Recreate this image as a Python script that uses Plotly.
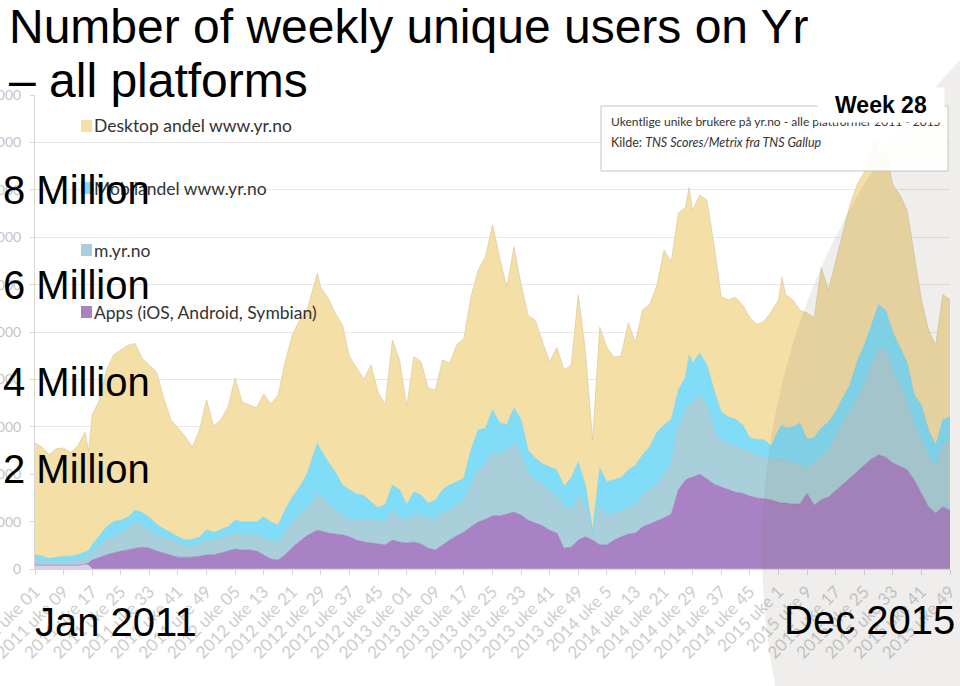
import plotly.graph_objects as go

# ---------------- data (millions of weekly unique users) ----------------
weeks = [0, 2, 4, 6, 8, 10, 12, 14, 15, 16, 18, 20, 22, 24, 26, 28, 30, 32, 34, 36,
         38, 40, 42, 44, 46, 48, 50, 52, 54, 56, 58, 60, 62, 64, 66, 68, 70, 72, 74, 76,
         78, 79, 80, 82, 84, 86, 88, 90, 92, 94, 96, 98, 100, 102, 104, 106, 108, 110, 112, 114,
         116, 118, 120, 122, 124, 126, 128, 130, 132, 134, 136, 138, 140, 142, 144, 146, 148, 150, 152, 154,
         156, 158, 160, 162, 164, 166, 168, 170, 172, 174, 176, 178, 180, 182, 183, 184, 186, 188, 190, 192,
         194, 196, 198, 200, 202, 204, 206, 208, 209, 210, 212, 214, 216, 218, 220, 222, 224, 226, 228, 230,
         232, 234, 235, 236, 238, 240, 242, 244, 246, 248, 250, 252, 254, 256]

desktop = [2.36, 2.30, 2.19, 2.30, 2.28, 2.19, 2.30, 2.53, 2.09, 2.74, 2.85, 3.31, 3.52, 3.59, 3.63, 3.52, 3.25, 3.21, 3.21, 2.76,
           2.38, 2.30, 2.19, 1.94, 2.26, 2.74, 2.24, 2.32, 2.53, 3.00, 2.53, 2.47, 2.41, 2.59, 2.49, 2.74, 3.12, 3.42, 3.52, 3.44,
           3.59, 3.59, 3.42, 3.46, 3.35, 3.38, 2.81, 2.66, 2.45, 2.89, 2.43, 2.11, 3.06, 2.74, 2.07, 2.85, 2.81, 2.43, 2.32, 2.74,
           2.57, 2.89, 2.95, 3.23, 3.38, 3.61, 3.90, 3.48, 2.91, 3.40, 2.85, 2.85, 2.91, 2.57, 2.22, 2.59, 2.45, 2.38, 3.52, 2.81,
           1.90, 2.97, 2.83, 2.59, 2.57, 3.10, 2.59, 3.06, 3.00, 3.10, 3.69, 3.33, 3.73, 3.59, 3.54, 3.23, 3.33, 3.48, 3.06, 2.43,
           2.47, 2.57, 2.53, 2.53, 2.43, 2.49, 2.83, 2.74, 3.12, 2.81, 2.68, 2.38, 2.66, 2.53, 3.38, 2.78, 3.16, 3.50, 3.80, 3.73,
           3.65, 3.65, 3.69, 3.16, 3.38, 3.10, 3.21, 3.21, 2.95, 2.22, 2.11, 2.11, 2.64, 2.47]

mobil = [0.11, 0.11, 0.06, 0.08, 0.11, 0.11, 0.11, 0.13, 0.13, 0.15, 0.21, 0.27, 0.32, 0.27, 0.23, 0.25, 0.27, 0.27, 0.23, 0.19,
         0.15, 0.13, 0.13, 0.15, 0.13, 0.21, 0.15, 0.17, 0.19, 0.27, 0.27, 0.27, 0.27, 0.44, 0.38, 0.36, 0.46, 0.53, 0.59, 0.70,
         0.95, 1.03, 0.97, 0.89, 0.80, 0.63, 0.63, 0.55, 0.49, 0.38, 0.27, 0.36, 0.53, 0.59, 0.32, 0.49, 0.44, 0.32, 0.42, 0.46,
         0.53, 0.49, 0.46, 0.74, 0.84, 0.74, 0.89, 0.68, 0.53, 0.72, 0.74, 0.46, 0.46, 0.42, 0.49, 0.57, 0.40, 0.68, 0.70, 0.42,
         0.06, 0.78, 0.70, 0.70, 0.70, 0.80, 0.84, 0.84, 0.91, 1.08, 1.05, 0.89, 0.74, 0.68, 1.05, 0.84, 0.89, 0.84, 0.84, 0.59,
         0.57, 0.57, 0.49, 0.30, 0.32, 0.36, 0.30, 0.63, 0.74, 0.68, 0.74, 0.89, 0.61, 0.53, 0.61, 0.59, 0.51, 0.51, 0.57, 0.80,
         0.84, 0.84, 0.91, 0.95, 0.84, 0.80, 0.80, 0.84, 0.63, 0.74, 0.57, 0.46, 0.53, 0.49]

myr = [0.11, 0.08, 0.08, 0.08, 0.08, 0.08, 0.11, 0.13, 0.13, 0.17, 0.25, 0.32, 0.34, 0.38, 0.46, 0.55, 0.46, 0.38, 0.34, 0.32,
       0.32, 0.30, 0.23, 0.23, 0.27, 0.32, 0.32, 0.32, 0.32, 0.34, 0.32, 0.32, 0.34, 0.36, 0.40, 0.38, 0.49, 0.53, 0.55, 0.59,
       0.68, 0.80, 0.74, 0.61, 0.51, 0.42, 0.36, 0.42, 0.49, 0.49, 0.49, 0.49, 0.63, 0.51, 0.49, 0.57, 0.59, 0.63, 0.63, 0.70,
       0.63, 0.65, 0.68, 0.89, 1.10, 1.18, 1.35, 1.29, 1.35, 1.48, 1.27, 1.01, 0.91, 0.89, 0.84, 0.76, 0.91, 0.78, 0.95, 0.68,
       0.15, 0.84, 0.63, 0.57, 0.55, 0.55, 0.59, 0.68, 0.72, 0.80, 0.91, 1.10, 1.37, 1.48, 1.54, 1.56, 1.67, 1.56, 1.14, 0.99,
       0.97, 0.97, 0.95, 0.93, 0.91, 0.89, 0.84, 0.89, 0.91, 0.91, 0.89, 0.82, 0.53, 0.89, 0.91, 0.99, 1.16, 1.33, 1.39, 1.52,
       1.69, 1.98, 2.09, 2.22, 2.26, 1.96, 1.71, 1.43, 1.16, 1.12, 1.05, 0.97, 1.31, 1.48]

apps = [0.00, 0.00, 0.00, 0.00, 0.00, 0.00, 0.00, 0.00, 0.05, 0.19, 0.25, 0.30, 0.34, 0.38, 0.40, 0.44, 0.46, 0.44, 0.38, 0.34,
        0.30, 0.25, 0.25, 0.25, 0.27, 0.30, 0.30, 0.34, 0.38, 0.42, 0.40, 0.40, 0.38, 0.30, 0.21, 0.19, 0.30, 0.46, 0.59, 0.70,
        0.78, 0.82, 0.80, 0.76, 0.74, 0.72, 0.68, 0.61, 0.57, 0.55, 0.53, 0.51, 0.61, 0.57, 0.55, 0.57, 0.53, 0.44, 0.40, 0.51,
        0.61, 0.70, 0.78, 0.89, 0.99, 1.05, 1.12, 1.12, 1.16, 1.20, 1.14, 1.03, 0.97, 0.91, 0.82, 0.76, 0.44, 0.46, 0.61, 0.68,
        0.61, 0.51, 0.51, 0.61, 0.68, 0.74, 0.76, 0.89, 0.95, 1.01, 1.08, 1.16, 1.67, 1.88, 1.92, 1.94, 2.00, 1.90, 1.79, 1.73,
        1.67, 1.62, 1.60, 1.54, 1.50, 1.48, 1.46, 1.41, 1.39, 1.39, 1.37, 1.37, 1.60, 1.35, 1.46, 1.52, 1.65, 1.77, 1.92, 2.05,
        2.19, 2.32, 2.36, 2.41, 2.36, 2.24, 2.17, 2.09, 1.88, 1.60, 1.31, 1.18, 1.31, 1.24]

# early weeks of 2011: apps shown in a lighter tone
apps_early = [0.08, 0.08, 0.08, 0.08, 0.08, 0.08, 0.08, 0.10, 0.08] + [0.0] * (len(weeks) - 9)

tick_labels = ["2011 uke 01", "2011 uke 09", "2011 uke 17", "2011 uke 25", "2011 uke 33", "2011 uke 41", "2011 uke 49",
               "2012 uke 05", "2012 uke 13", "2012 uke 21", "2012 uke 29", "2012 uke 37", "2012 uke 45",
               "2013 uke 01", "2013 uke 09", "2013 uke 17", "2013 uke 25", "2013 uke 33", "2013 uke 41", "2013 uke 49",
               "2014 uke 5", "2014 uke 13", "2014 uke 21", "2014 uke 29", "2014 uke 37", "2014 uke 45",
               "2015 uke 1", "2015 uke 9", "2015 uke 17", "2015 uke 25", "2015 uke 33", "2015 uke 41", "2015 uke 49"]
tick_weeks = [8 * i for i in range(len(tick_labels))]

y_ticks = list(range(0, 11))
y_ticktext = ["0"] + ["000"] * 10

series_names = ["Apps (iOS, Android, Symbian)", "m.yr.no", "Mobilandel www.yr.no", "Desktop andel www.yr.no"]
C_TAN, C_CYAN, C_GREY, C_PURP, C_LAV = "#F4DFA6", "#80DCF7", "#A9D0DA", "#A882C4", "#DCCDEA"

# ---------------- figure ----------------
W, H = 960, 686
L, R, T, B = 35, 10, 95, 117
PW, PH = W - L - R, H - T - B


def px(x):
    return (x - L) / PW


def py(y):
    return (H - B - y) / PH


fig = go.Figure()
for vals, name, col, lc in [
    (apps_early, "apps_early", C_LAV, C_LAV),
    (apps, series_names[0], C_PURP, "#9d78ba"),
    (myr, series_names[1], C_GREY, "#9cc4cf"),
    (mobil, series_names[2], C_CYAN, "#74d2ee"),
    (desktop, series_names[3], C_TAN, "#d6c498"),
]:
    fig.add_trace(go.Scatter(x=weeks, y=vals, name=name, stackgroup="one", mode="lines",
                             line=dict(width=0.6, color=lc), fillcolor=col, showlegend=False,
                             hoverinfo="skip"))

shapes = []
# slide background decoration (large soft circle at right)
shapes.append(dict(type="circle", xref="paper", yref="paper", layer="above",
                   x0=px(762), x1=px(2172), y0=py(1255), y1=py(-155),
                   fillcolor="rgba(125,115,95,0.12)", line=dict(width=0)))
# in-chart legend squares
for ycen, col in [(126, C_TAN), (188, C_CYAN), (250, C_GREY), (312, C_PURP)]:
    shapes.append(dict(type="rect", xref="paper", yref="paper", layer="above",
                       x0=px(81), x1=px(92), y0=py(ycen + 6), y1=py(ycen - 6),
                       fillcolor=col, line=dict(width=0)))
# source box
shapes.append(dict(type="rect", xref="paper", yref="paper", layer="above",
                   x0=px(601), x1=px(948), y0=py(171), y1=py(106),
                   fillcolor="rgba(255,255,255,0.9)", line=dict(width=1, color="#c4c4c4")))

ann = []
legend_font = dict(family="Lato", size=17.5, color="#333333")
for ycen, txt in [(126, series_names[3]), (188, series_names[2]), (250, series_names[1]), (312, series_names[0])]:
    ann.append(dict(x=px(92), y=py(ycen), xref="paper", yref="paper", text=txt, showarrow=False,
                    xanchor="left", yanchor="middle", font=legend_font))

ann.append(dict(x=px(609), y=py(122), xref="paper", yref="paper",
                text="Ukentlige unike brukere på yr.no - alle plattformer 2011 - 2015",
                showarrow=False, xanchor="left", yanchor="middle",
                font=dict(family="Lato", size=12, color="#333333")))
ann.append(dict(x=px(609), y=py(142), xref="paper", yref="paper",
                text="Kilde: <i>TNS Scores/Metrix fra TNS Gallup</i>",
                showarrow=False, xanchor="left", yanchor="middle",
                font=dict(family="Lato", size=12.5, color="#333333")))
ann.append(dict(x=px(881), y=py(105), xref="paper", yref="paper", text="<b>Week 28</b>",
                showarrow=False, xanchor="center", yanchor="middle", width=124, height=32,
                bgcolor="white", font=dict(family="Liberation Sans", size=23, color="black")))

big = dict(family="Liberation Sans", size=40, color="black")
ann.append(dict(x=px(7), y=py(27), xref="paper", yref="paper", text="Number of weekly unique users on Yr",
                showarrow=False, xanchor="left", yanchor="middle",
                font=dict(family="Liberation Sans", size=48, color="black")))
ann.append(dict(x=px(7), y=py(80), xref="paper", yref="paper", text="– all platforms",
                showarrow=False, xanchor="left", yanchor="middle",
                font=dict(family="Liberation Sans", size=48, color="black")))
for ycen, txt in [(190, "8 Million"), (285, "6 Million"), (382, "4 Million"), (469, "2 Million")]:
    ann.append(dict(x=px(1), y=py(ycen), xref="paper", yref="paper", text=txt, showarrow=False,
                    xanchor="left", yanchor="middle", font=big))
ann.append(dict(x=px(33), y=py(622), xref="paper", yref="paper", text="Jan 2011", showarrow=False,
                xanchor="left", yanchor="middle", font=big))
ann.append(dict(x=px(957), y=py(620), xref="paper", yref="paper", text="Dec 2015", showarrow=False,
                xanchor="right", yanchor="middle", font=big))

fig.update_layout(
    width=W, height=H,
    margin=dict(l=L, r=R, t=T, b=B),
    paper_bgcolor="white", plot_bgcolor="white",
    showlegend=False,
    shapes=shapes, annotations=ann,
    xaxis=dict(range=[0, 256], tickmode="array", tickvals=tick_weeks, ticktext=tick_labels,
               tickangle=-45, tickfont=dict(family="Lato", size=17, color="#cdcdcd"),
               ticklabeloverflow="allow", automargin=False,
               showgrid=False, showline=True, linecolor="#d6d6d6", linewidth=1,
               ticks="outside", ticklen=5, tickcolor="#d6d6d6", zeroline=False),
    yaxis=dict(range=[0, 10], tickmode="array", tickvals=y_ticks, ticktext=y_ticktext,
               tickfont=dict(family="Lato", size=14, color="#c4c4c4"),
               ticklabeloverflow="allow", automargin=False, ticklabelstandoff=6,
               showgrid=True, gridcolor="#e8e8e8", gridwidth=1,
               showline=True, linecolor="#d6d6d6", ticks="outside", ticklen=4, tickcolor="#d6d6d6",
               zeroline=False),
)

fig.write_html("out.html")
